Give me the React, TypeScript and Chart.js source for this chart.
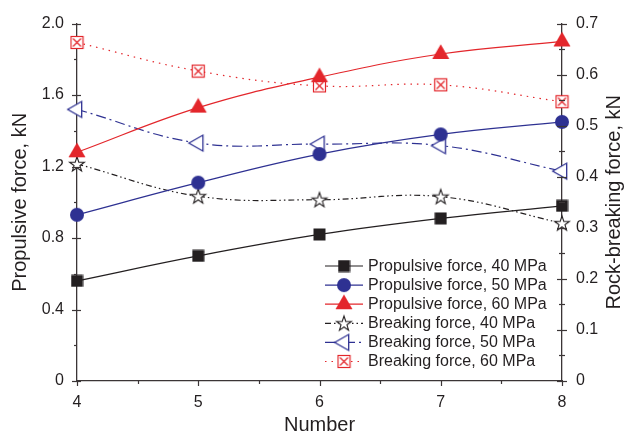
import React, { useEffect, useRef } from 'react';
import { Chart, registerables } from 'chart.js';

Chart.register(...registerables);

// ---- data ----
const numbers = [4, 5, 6, 7, 8];
const propulsive40 = [0.56, 0.70, 0.82, 0.91, 0.98];
const propulsive50 = [0.93, 1.11, 1.27, 1.38, 1.45];
const propulsive60 = [1.28, 1.53, 1.70, 1.83, 1.90];
const breaking40 = [0.425, 0.362, 0.355, 0.361, 0.309];
const breaking50 = [0.532, 0.466, 0.464, 0.461, 0.411];
const breaking60 = [0.663, 0.607, 0.578, 0.580, 0.547];
const seriesLabels = [
  'Propulsive force, 40 MPa',
  'Propulsive force, 50 MPa',
  'Propulsive force, 60 MPa',
  'Breaking force, 40 MPa',
  'Breaking force, 50 MPa',
  'Breaking force, 60 MPa',
];
const xTitle = 'Number';
const leftTitle = 'Propulsive force, kN';
const rightTitle = 'Rock-breaking force, kN';
const xMin = 4, xMax = 8, xStep = 1;
const leftMin = 0, leftMax = 2.0, leftStep = 0.4;
const rightMin = 0, rightMax = 0.7, rightStep = 0.1;

const FONT = '"Liberation Sans", Arial, sans-serif';
const INK = '#231f20';
const BLUE = '#2e3192';
const RED = '#e3262b';
const AXIS = '#3b3536';

function makeCanvas(w: number, h: number, draw: (c: CanvasRenderingContext2D) => void) {
  const c = document.createElement('canvas');
  c.width = w;
  c.height = h;
  const ctx = c.getContext('2d')!;
  draw(ctx);
  return c;
}

function markerSquare(color: string) {
  return makeCanvas(13, 13, (c) => {
    c.fillStyle = color;
    c.fillRect(0.5, 0.5, 12, 12);
  });
}
function markerCircle(color: string) {
  return makeCanvas(16, 16, (c) => {
    c.fillStyle = color;
    c.beginPath();
    c.arc(8, 8, 7, 0, Math.PI * 2);
    c.fill();
  });
}
function markerTriUp(color: string) {
  return makeCanvas(20, 22, (c) => {
    c.fillStyle = color;
    c.beginPath();
    c.moveTo(10, 1.2);
    c.lineTo(18.5, 15.9);
    c.lineTo(1.5, 15.9);
    c.closePath();
    c.fill();
  });
}
function markerStar(color: string) {
  return makeCanvas(20, 20, (c) => {
    const R = 7.8, r = 3.1, cx = 10, cy = 10.6;
    c.beginPath();
    for (let i = 0; i < 10; i++) {
      const rad = i % 2 === 0 ? R : r;
      const a = -Math.PI / 2 + (i * Math.PI) / 5;
      const px = cx + rad * Math.cos(a);
      const py = cy + rad * Math.sin(a);
      if (i === 0) c.moveTo(px, py);
      else c.lineTo(px, py);
    }
    c.closePath();
    c.fillStyle = '#ffffff';
    c.fill();
    c.strokeStyle = color;
    c.lineWidth = 1.1;
    c.stroke();
  });
}
function markerTriLeft(color: string) {
  return makeCanvas(22, 20, (c) => {
    c.beginPath();
    c.moveTo(1.7, 10);
    c.lineTo(15.7, 2);
    c.lineTo(15.7, 18);
    c.closePath();
    c.fillStyle = '#ffffff';
    c.fill();
    c.strokeStyle = color;
    c.lineWidth = 1.3;
    c.stroke();
  });
}
function markerBoxX(color: string) {
  return makeCanvas(15, 15, (c) => {
    c.fillStyle = '#ffffff';
    c.fillRect(1.5, 1.5, 12, 12);
    c.strokeStyle = color;
    c.lineWidth = 1.2;
    c.strokeRect(1.5, 1.5, 12, 12);
    c.beginPath();
    c.moveTo(3.5, 3.5);
    c.lineTo(11.5, 11.5);
    c.moveTo(11.5, 3.5);
    c.lineTo(3.5, 11.5);
    c.stroke();
  });
}

const axisTicksPlugin = {
  id: 'axisTicks',
  afterDraw(chart: any) {
    const ctx = chart.ctx as CanvasRenderingContext2D;
    const area = chart.chartArea;
    const sx = chart.scales.x, sy = chart.scales.y, sy1 = chart.scales.y1;
    ctx.save();
    ctx.strokeStyle = AXIS;
    ctx.lineWidth = 1.2;
    const line = (a: number, b: number, c: number, d: number) => {
      ctx.beginPath();
      ctx.moveTo(a, b);
      ctx.lineTo(c, d);
      ctx.stroke();
    };
    const isMajor = (v: number, step: number) => Math.abs(v / step - Math.round(v / step)) < 1e-6;
    for (let k = 0; xMin + (k * xStep) / 2 <= xMax + 1e-9; k++) {
      const v = xMin + (k * xStep) / 2;
      const px = Math.round(sx.getPixelForValue(v)) + 0.5;
      line(px, area.bottom, px, area.bottom + (isMajor(v - xMin, xStep) ? 5 : 3));
    }
    for (let k = 0; leftMin + (k * leftStep) / 2 <= leftMax + 1e-9; k++) {
      const v = leftMin + (k * leftStep) / 2;
      const py = Math.round(sy.getPixelForValue(v)) + 0.5;
      if (isMajor(v, leftStep)) line(area.left - 5, py, area.left + 4, py);
      else line(area.left - 3, py, area.left, py);
    }
    for (let k = 0; rightMin + (k * rightStep) / 2 <= rightMax + 1e-9; k++) {
      const v = rightMin + (k * rightStep) / 2;
      const py = Math.round(sy1.getPixelForValue(v)) + 0.5;
      if (isMajor(v, rightStep)) line(area.right - 5, py, area.right + 5, py);
      else line(area.right - 3, py, area.right + 3, py);
    }
    // right-axis title, reading bottom-to-top like the left one
    ctx.save();
    ctx.translate(sy1.right - 10.5, (area.top + area.bottom) / 2);
    ctx.rotate(-Math.PI / 2);
    ctx.fillStyle = INK;
    ctx.font = `20px ${FONT}`;
    ctx.textAlign = 'center';
    ctx.textBaseline = 'middle';
    ctx.fillText(rightTitle, 0, 0);
    ctx.restore();
    ctx.restore();
  },
};

const legendPlugin = {
  id: 'innerLegend',
  afterDraw(chart: any) {
    const ctx = chart.ctx as CanvasRenderingContext2D;
    const area = chart.chartArea;
    const x0 = area.right - 237;
    const y0 = area.bottom - 115;
    const rowH = 19.1;
    ctx.save();
    chart.data.datasets.forEach((ds: any, i: number) => {
      const y = y0 + i * rowH;
      ctx.strokeStyle = ds.borderColor;
      ctx.lineWidth = ds.borderWidth;
      ctx.setLineDash(ds.borderDash || []);
      ctx.beginPath();
      ctx.moveTo(x0, y);
      ctx.lineTo(x0 + 38, y);
      ctx.stroke();
      ctx.setLineDash([]);
      const img = ds.pointStyle as HTMLCanvasElement;
      ctx.drawImage(img, x0 + 19 - img.width / 2, y - img.height / 2);
      ctx.fillStyle = INK;
      ctx.font = `16px ${FONT}`;
      ctx.textBaseline = 'middle';
      ctx.textAlign = 'left';
      ctx.fillText(ds.label, x0 + 43, y + 0.5);
    });
    ctx.restore();
  },
};

export default function App() {
  const ref = useRef<HTMLCanvasElement>(null);

  useEffect(() => {
    document.body.style.margin = '0';
    const toPts = (arr: number[]) => numbers.map((n, i) => ({ x: n, y: arr[i] }));
    const base = { borderWidth: 1.2, tension: 0.4, clip: false as any, pointRadius: 8, fill: false };
    const chart = new Chart(ref.current!, {
      type: 'line',
      data: {
        datasets: [
          { ...base, label: seriesLabels[0], data: toPts(propulsive40), yAxisID: 'y', borderColor: INK, pointStyle: markerSquare(INK) },
          { ...base, label: seriesLabels[1], data: toPts(propulsive50), yAxisID: 'y', borderColor: BLUE, pointStyle: markerCircle(BLUE) },
          { ...base, label: seriesLabels[2], data: toPts(propulsive60), yAxisID: 'y', borderColor: RED, pointStyle: markerTriUp(RED) },
          { ...base, label: seriesLabels[3], data: toPts(breaking40), yAxisID: 'y1', borderColor: INK, borderDash: [6, 3, 1.5, 3, 1.5, 3], pointStyle: markerStar(INK) },
          { ...base, label: seriesLabels[4], data: toPts(breaking50), yAxisID: 'y1', borderColor: BLUE, borderDash: [10, 4, 2, 4], pointStyle: markerTriLeft(BLUE) },
          { ...base, label: seriesLabels[5], data: toPts(breaking60), yAxisID: 'y1', borderColor: RED, borderDash: [1.5, 5], pointStyle: markerBoxX(RED) },
        ] as any,
      },
      options: {
        responsive: false,
        animation: false,
        devicePixelRatio: 1,
        layout: { padding: { top: 18, left: 0, right: 0, bottom: 0 } },
        plugins: { legend: { display: false }, tooltip: { enabled: false } },
        scales: {
          x: {
            type: 'linear',
            position: 'bottom',
            min: xMin,
            max: xMax,
            afterFit: (s: any) => { s.height = 53; },
            ticks: { stepSize: xStep, color: INK, font: { family: FONT, size: 16 }, padding: 12, callback: (v: any) => String(v) },
            grid: { display: false, drawTicks: false, tickLength: 0 },
            border: { display: true, color: AXIS, width: 1.3 },
            title: { display: true, text: xTitle, color: INK, font: { family: FONT, size: 20, lineHeight: 1 }, padding: { top: 0, bottom: -1.5 } },
          },
          y: {
            type: 'linear',
            position: 'left',
            min: leftMin,
            max: leftMax,
            afterFit: (s: any) => { s.width = 77; },
            ticks: { stepSize: leftStep, color: INK, font: { family: FONT, size: 16 }, padding: 13, callback: (v: any) => (v === 0 ? '0' : Number(v).toFixed(1)) },
            grid: { display: false, drawTicks: false, tickLength: 0 },
            border: { display: true, color: AXIS, width: 1.3 },
            title: { display: true, text: leftTitle, color: INK, font: { family: FONT, size: 20, lineHeight: 1 }, padding: { top: 10.5, bottom: 0 } },
          },
          y1: {
            type: 'linear',
            position: 'right',
            min: rightMin,
            max: rightMax,
            afterFit: (s: any) => { s.width = 63; },
            ticks: { stepSize: rightStep, color: INK, font: { family: FONT, size: 16 }, padding: 14, callback: (v: any) => (v === 0 ? '0' : Number(v).toFixed(1)) },
            grid: { display: false, drawTicks: false, tickLength: 0 },
            border: { display: true, color: AXIS, width: 1.3 },
            title: { display: false },
          },
        },
      } as any,
      plugins: [axisTicksPlugin, legendPlugin],
    });
    return () => chart.destroy();
  }, []);

  return (
    <div style={{ position: 'absolute', left: 0, top: 0, width: 625, height: 434, background: '#fff' }}>
      <canvas ref={ref} width={625} height={434} style={{ display: 'block' }} />
    </div>
  );
}
